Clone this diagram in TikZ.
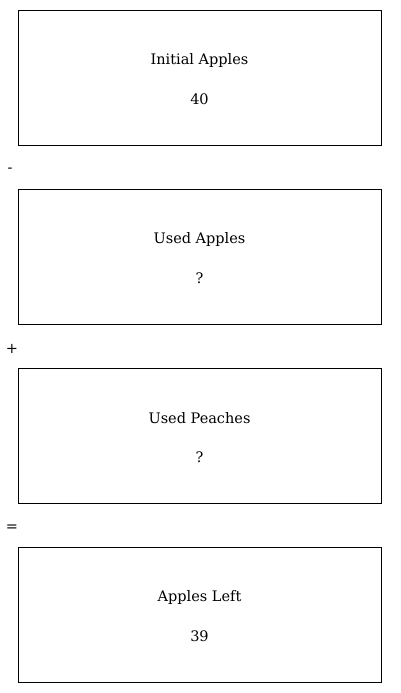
\documentclass[tikz,border=0pt]{standalone}
\usepackage{fontspec}
\setmainfont{DejaVu Serif}
\begin{document}
\begin{tikzpicture}[x=1pt,y=-1pt,
  box/.style={draw,line width=0.9pt,minimum width=363pt,minimum height=135pt,inner sep=0pt},
  lbl/.style={font=\fontsize{14.5}{17}\selectfont},
  op/.style={font=\fontsize{14.5}{17}\selectfont,inner sep=0pt}]
\useasboundingbox (0,0) rectangle (400,693);
\foreach \n/\y/\t/\v in {a/10/Initial Apples/40, b/189/Used Apples/?, c/368/Used Peaches/?, d/547/Apples Left/39}{
  \node[box] (\n) at (199.5,\y+67.5) {};
  \node[lbl] (\n t) at (199.5,\y+50) {\t};
  \node[lbl] (\n v) at (199.5,\y+89) {\v};
}
\node[op] (m) at (10,170) {-};
\node[op] (p) at (12,349) {+};
\node[op] (e) at (12,528) {=};
\end{tikzpicture}
\end{document}
